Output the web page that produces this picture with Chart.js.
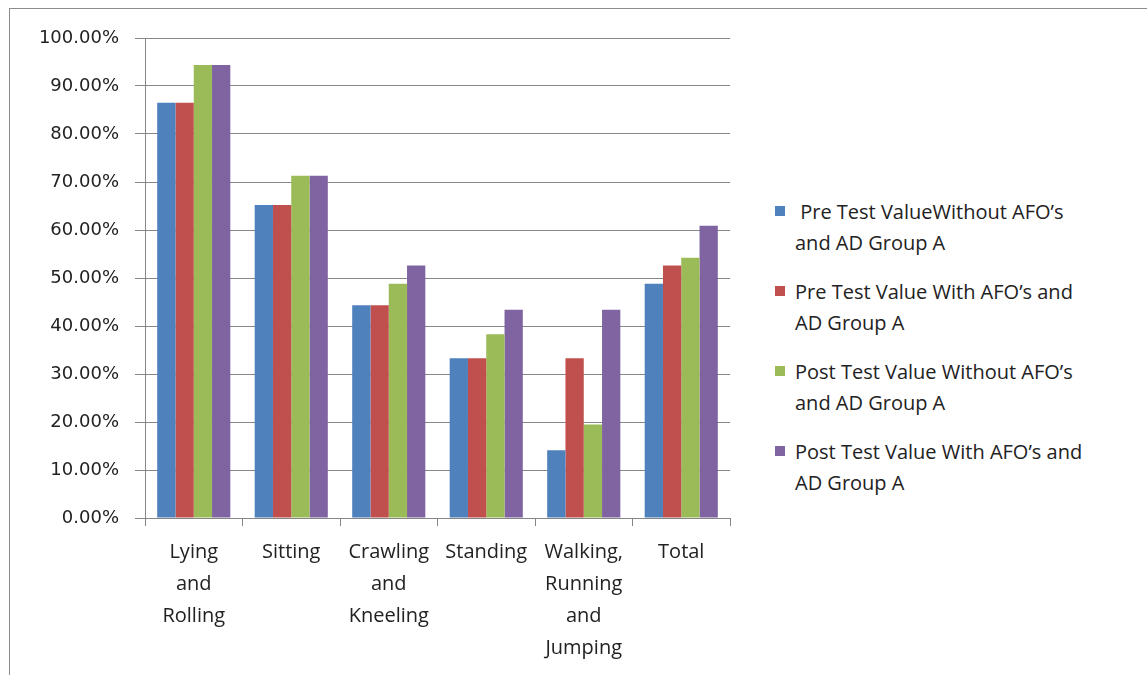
<!DOCTYPE html>
<html>
<head>
<meta charset="utf-8">
<script src="https://cdn.jsdelivr.net/npm/chart.js"></script>
<style>
    body { margin: 0; background: #fff; }
    #frame { position: absolute; left: 9px; top: 8px; width: 1300px; height: 800px; border: 1px solid #8c8c8c; }
    #wrap { position: absolute; left: 0; top: 0; width: 745px; height: 675px; }
    #legend { position: absolute; left: 775px; top: 196px; font-family: "Open Sans", sans-serif; font-size: 20px; color: #222; }
    .item { position: relative; padding-left: 20px; line-height: 31px; margin-bottom: 18px; white-space: pre; }
    .box { position: absolute; left: 0; top: 10px; width: 10px; height: 10px; }
</style>
</head>
<body>
<div id="frame"></div>
<div id="wrap"><canvas id="chart"></canvas></div>
<div id="legend"></div>
<script>
// categories (multi-line labels as in the source)
const categories = [
    ['Lying', 'and', 'Rolling'],
    ['Sitting'],
    ['Crawling', 'and', 'Kneeling'],
    ['Standing'],
    ['Walking,', 'Running', 'and', 'Jumping'],
    ['Total']
];

// series names, legend text split where the source wraps
const seriesNames = [
    [' Pre Test ValueWithout AFO\u2019s', 'and AD Group A'],
    ['Pre Test Value With AFO\u2019s and', 'AD Group A'],
    ['Post Test Value Without AFO\u2019s', 'and AD Group A'],
    ['Post Test Value With AFO\u2019s and', 'AD Group A']
];

// values in percent
const preWithout = [86.5, 65.2, 44.3, 33.3, 14.1, 48.8];
const preWith = [86.5, 65.2, 44.3, 33.3, 33.3, 52.6];
const postWithout = [94.4, 71.3, 48.8, 38.3, 19.5, 54.2];
const postWith = [94.4, 71.3, 52.6, 43.4, 43.4, 60.9];

const yTicks = [0, 10, 20, 30, 40, 50, 60, 70, 80, 90, 100];

const colors = ['#4F81BD', '#C0504D', '#9BBB59', '#8064A2'];
const seriesValues = [preWithout, preWith, postWithout, postWith];

const axisGray = '#868686';

new Chart(document.getElementById('chart'), {
    type: 'bar',
    data: {
        labels: categories,
        datasets: seriesValues.map((vals, i) => ({
            label: seriesNames[i].join(' '),
            data: vals,
            backgroundColor: colors[i],
            borderWidth: 0,
            barPercentage: 1,
            categoryPercentage: 0.75
        }))
    },
    options: {
        responsive: true,
        maintainAspectRatio: false,
        animation: false,
        layout: {padding: {top: 38, right: 15, left: 0, bottom: 0}},
        plugins: {
            legend: {display: false},
            tooltip: {enabled: false}
        },
        scales: {
            x: {
                grid: {display: true, drawOnChartArea: false, drawTicks: true, tickLength: 8, color: axisGray},
                border: {display: true, color: axisGray},
                ticks: {
                    autoSkip: false,
                    maxRotation: 0,
                    minRotation: 0,
                    padding: 10,
                    color: '#222',
                    font: {family: 'Open Sans', size: 20, lineHeight: 1.6}
                },
                afterFit: (scale) => { scale.height = 157; }
            },
            y: {
                min: 0,
                max: 100,
                afterBuildTicks: (scale) => { scale.ticks = yTicks.map(v => ({value: v})); },
                grid: {color: axisGray, tickLength: 10},
                border: {display: true, color: axisGray},
                ticks: {
                    padding: 16,
                    color: '#222',
                    font: {family: 'DejaVu Sans', size: 18},
                    callback: (v) => v.toFixed(2) + '%'
                },
                afterFit: (scale) => { scale.width = 145; }
            }
        }
    }
});

// legend in HTML so the long names can wrap like the source
const legend = document.getElementById('legend');
seriesNames.forEach((lines, i) => {
    const item = document.createElement('div');
    item.className = 'item';
    const box = document.createElement('span');
    box.className = 'box';
    box.style.background = colors[i];
    item.appendChild(box);
    item.appendChild(document.createTextNode(lines.join('\n')));
    legend.appendChild(item);
});
</script>
</body>
</html>
